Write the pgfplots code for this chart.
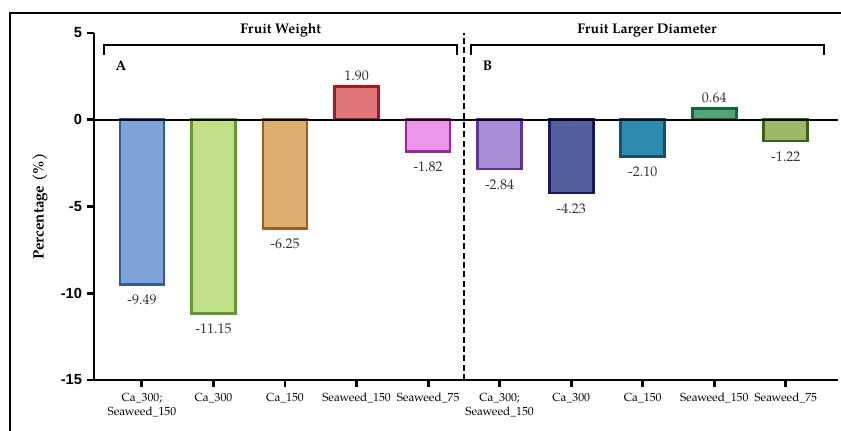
\documentclass[border=0pt]{standalone}
\usepackage{pgfplots}
\pgfplotsset{compat=1.18}
\usepackage{fontspec}
\setmainfont{TeX Gyre Pagella}
\setsansfont{Liberation Sans}

\definecolor{f1}{HTML}{7EA3D6}\definecolor{e1}{HTML}{2E5C9E}
\definecolor{f2}{HTML}{C0DF88}\definecolor{e2}{HTML}{5E9B2B}
\definecolor{f3}{HTML}{DDAE70}\definecolor{e3}{HTML}{9A611C}
\definecolor{f4}{HTML}{E07679}\definecolor{e4}{HTML}{A01C2A}
\definecolor{f5}{HTML}{EB96E8}\definecolor{e5}{HTML}{A0229E}
\definecolor{f6}{HTML}{A68DD4}\definecolor{e6}{HTML}{5E35A0}
\definecolor{f7}{HTML}{53609E}\definecolor{e7}{HTML}{161A5C}
\definecolor{f8}{HTML}{2E8AAF}\definecolor{e8}{HTML}{17506B}
\definecolor{f9}{HTML}{52A577}\definecolor{e9}{HTML}{17643A}
\definecolor{f10}{HTML}{9DB868}\definecolor{e10}{HTML}{386214}

\pgfplotsset{
  bar/.style 2 args={ybar, bar width=33pt, bar shift=0pt,
    fill=#1, draw=#2, line width=2pt,
    nodes near coords, point meta=explicit symbolic,
    nodes near coords align={anchor=center}},
  neg/.style={nodes near coords style={font=\fontsize{10.5}{12}\selectfont,
      text=black!80, anchor=center, yshift=-11.5pt}},
  pos/.style={nodes near coords style={font=\fontsize{10.5}{12}\selectfont,
      text=black!80, anchor=center, yshift=8.5pt}},
}

\begin{document}
\begin{tikzpicture}
\path[use as bounding box] (-70.5pt,-37.5pt) rectangle (560.25pt,285pt);
\draw[line width=1.3pt] (-63pt,-40pt) -- (-63pt,275.25pt) -- (565pt,275.25pt);
\begin{axis}[
    at={(0pt,0pt)}, anchor=south west,
    scale only axis, width=558pt, height=260.25pt,
    xmin=0.33, xmax=10.73, ymin=-15, ymax=5,
    axis x line*=bottom, axis y line*=left,
    axis line style={line width=2.2pt},
    clip=false,
    tick align=outside,
    major tick length=5.5pt,
    every tick/.style={line width=2.2pt, black},
    xtick={1,...,10},
    xticklabels={{Ca\_300;\\Seaweed\_150},Ca\_300,Ca\_150,Seaweed\_150,Seaweed\_75,
                 {Ca\_300;\\Seaweed\_150},Ca\_300,Ca\_150,Seaweed\_150,Seaweed\_75},
    xticklabel style={font=\fontsize{8.8}{10.5}\selectfont, align=center, yshift=-1pt},
    ytick={-15,-10,-5,0,5},
    yticklabels={-15,-10,-5,0,5},
    yticklabel style={font=\sffamily\bfseries\fontsize{11}{13}\selectfont},
    ylabel={Percentage (\%)},
    every axis y label/.style={at={(axis description cs:0,0.5)}, xshift=-40.5pt,
      rotate=90, anchor=center, font=\bfseries\fontsize{11.3}{13}\selectfont},
]
% Fruit Weight
\addplot[bar={f1}{e1}, neg] coordinates {(1,-9.49) [-9.49]};
\addplot[bar={f2}{e2}, neg] coordinates {(2,-11.15) [-11.15]};
\addplot[bar={f3}{e3}, neg] coordinates {(3,-6.25) [-6.25]};
\addplot[bar={f4}{e4}, pos] coordinates {(4,1.90) [1.90]};
\addplot[bar={f5}{e5}, neg] coordinates {(5,-1.82) [-1.82]};
% Fruit Larger Diameter
\addplot[bar={f6}{e6}, neg] coordinates {(6,-2.84) [-2.84]};
\addplot[bar={f7}{e7}, neg] coordinates {(7,-4.23) [-4.23]};
\addplot[bar={f8}{e8}, neg] coordinates {(8,-2.10) [-2.10]};
\addplot[bar={f9}{e9}, pos] coordinates {(9,0.64) [0.64]};
\addplot[bar={f10}{e10}, neg] coordinates {(10,-1.22) [-1.22]};

\draw[line width=1.5pt] (axis cs:0.33,0) -- (axis cs:10.73,0);
\draw[line width=2pt, dash pattern=on 4.5pt off 2.5pt] (axis cs:5.5,-15) -- (axis cs:5.5,5);
\draw[line width=1.6pt] (axis cs:0.47,3.75) |- (axis cs:5.41,4.33) -- (axis cs:5.41,3.75);
\draw[line width=1.6pt] (axis cs:5.60,3.75) |- (axis cs:10.53,4.33) -- (axis cs:10.53,3.75);
\node[font=\bfseries\fontsize{10.5}{12}\selectfont] at (axis cs:2.94,5.13) {Fruit Weight};
\node[font=\bfseries\fontsize{10.5}{12}\selectfont] at (axis cs:8.06,5.13) {Fruit Larger Diameter};
\node[font=\bfseries\fontsize{10.5}{12}\selectfont] at (axis cs:0.71,3.12) {A};
\node[font=\bfseries\fontsize{10.5}{12}\selectfont] at (axis cs:5.83,3.12) {B};
\end{axis}
\end{tikzpicture}
\end{document}
